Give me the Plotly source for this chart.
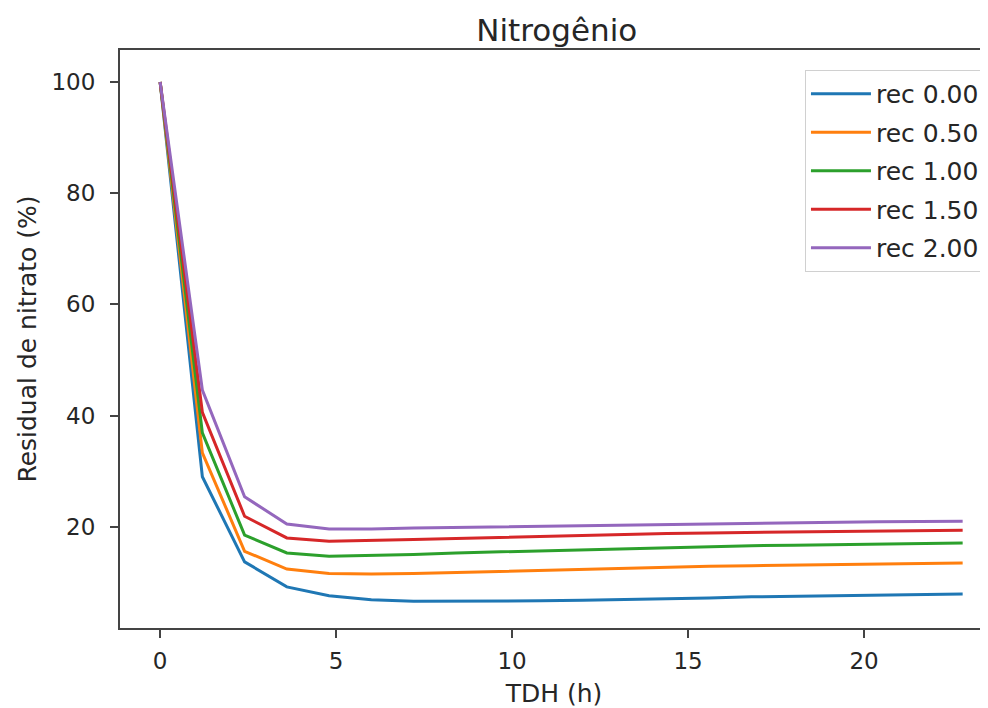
import plotly.graph_objects as go

# TDH (h) sampling points
tdh = [0.0, 1.2, 2.4, 3.6, 4.8, 6.0, 7.2, 8.4, 9.6, 10.8,
       12.0, 13.2, 14.4, 15.6, 16.8, 18.0, 19.2, 20.4, 21.6, 22.8]

# residual nitrate (%) for each recirculation ratio
rec_000 = [100, 29.0, 13.7, 9.2, 7.6, 6.9, 6.6, 6.6, 6.6, 6.7,
           6.8, 6.9, 7.1, 7.2, 7.4, 7.5, 7.6, 7.7, 7.8, 7.9]
rec_050 = [100, 33.3, 15.6, 12.4, 11.6, 11.5, 11.6, 11.8, 12.0, 12.2,
           12.4, 12.6, 12.7, 12.9, 13.0, 13.1, 13.2, 13.3, 13.4, 13.5]
rec_100 = [100, 36.9, 18.5, 15.3, 14.7, 14.8, 15.0, 15.3, 15.5, 15.7,
           15.9, 16.1, 16.3, 16.4, 16.6, 16.7, 16.8, 16.9, 17.0, 17.1]
rec_150 = [100, 40.6, 21.9, 18.0, 17.4, 17.5, 17.7, 17.9, 18.1, 18.3,
           18.5, 18.6, 18.8, 18.9, 19.0, 19.1, 19.2, 19.3, 19.35, 19.4]
rec_200 = [100, 44.6, 25.4, 20.5, 19.6, 19.6, 19.8, 19.9, 20.1, 20.2,
           20.3, 20.4, 20.5, 20.6, 20.7, 20.8, 20.85, 20.9, 20.95, 21.0]

names = ["rec 0.00", "rec 0.50", "rec 1.00", "rec 1.50", "rec 2.00"]
series = [rec_000, rec_050, rec_100, rec_150, rec_200]
colors = ["#1f77b4", "#ff7f0e", "#2ca02c", "#d62728", "#9467bd"]

fig = go.Figure()
for name, vals, col in zip(names, series, colors):
    fig.add_trace(go.Scatter(x=tdh, y=vals, name=name, mode="lines", legendgroup=name,
                             line=dict(color=col, width=3)))

# page has an 8px body margin, so the figure is 8px smaller than the window
fig.update_layout(
    width=980, height=700,
    margin=dict(l=112, r=0, t=42, b=80, autoexpand=False),
    paper_bgcolor="white", plot_bgcolor="white",
    font=dict(family="DejaVu Sans", size=23, color="#262626"),
    title=dict(text="Nitrogênio", x=0.560, xanchor="center", y=0.968, yanchor="middle",
               font=dict(size=31, color="#262626")),
    legend=dict(x=0.9965, xanchor="right", y=0.9654, yanchor="top",
                bgcolor="white", bordercolor="#d0d0d0", borderwidth=1,
                tracegroupgap=3, itemwidth=60, font=dict(size=25)),
    showlegend=True,
)

fig.update_xaxes(range=[-1.14, 23.52], tickvals=[0, 5, 10, 15, 20],
                 showgrid=False, zeroline=False, showline=True, linecolor="#444",
                 linewidth=2, mirror=True, ticks="outside", ticklen=8, tickwidth=2,
                 tickcolor="#444", ticklabelstandoff=3,
                 title=dict(text="TDH (h)", standoff=12, font=dict(size=25)))
fig.update_yaxes(range=[1.8, 105.75], tickvals=[20, 40, 60, 80, 100],
                 showgrid=False, zeroline=False, showline=True, linecolor="#444",
                 linewidth=2, ticks="outside", ticklen=8, tickwidth=2,
                 tickcolor="#444", ticklabelstandoff=10,
                 title=dict(text="Residual de nitrato (%)", standoff=8, font=dict(size=25)))

fig.write_html("out.html")
